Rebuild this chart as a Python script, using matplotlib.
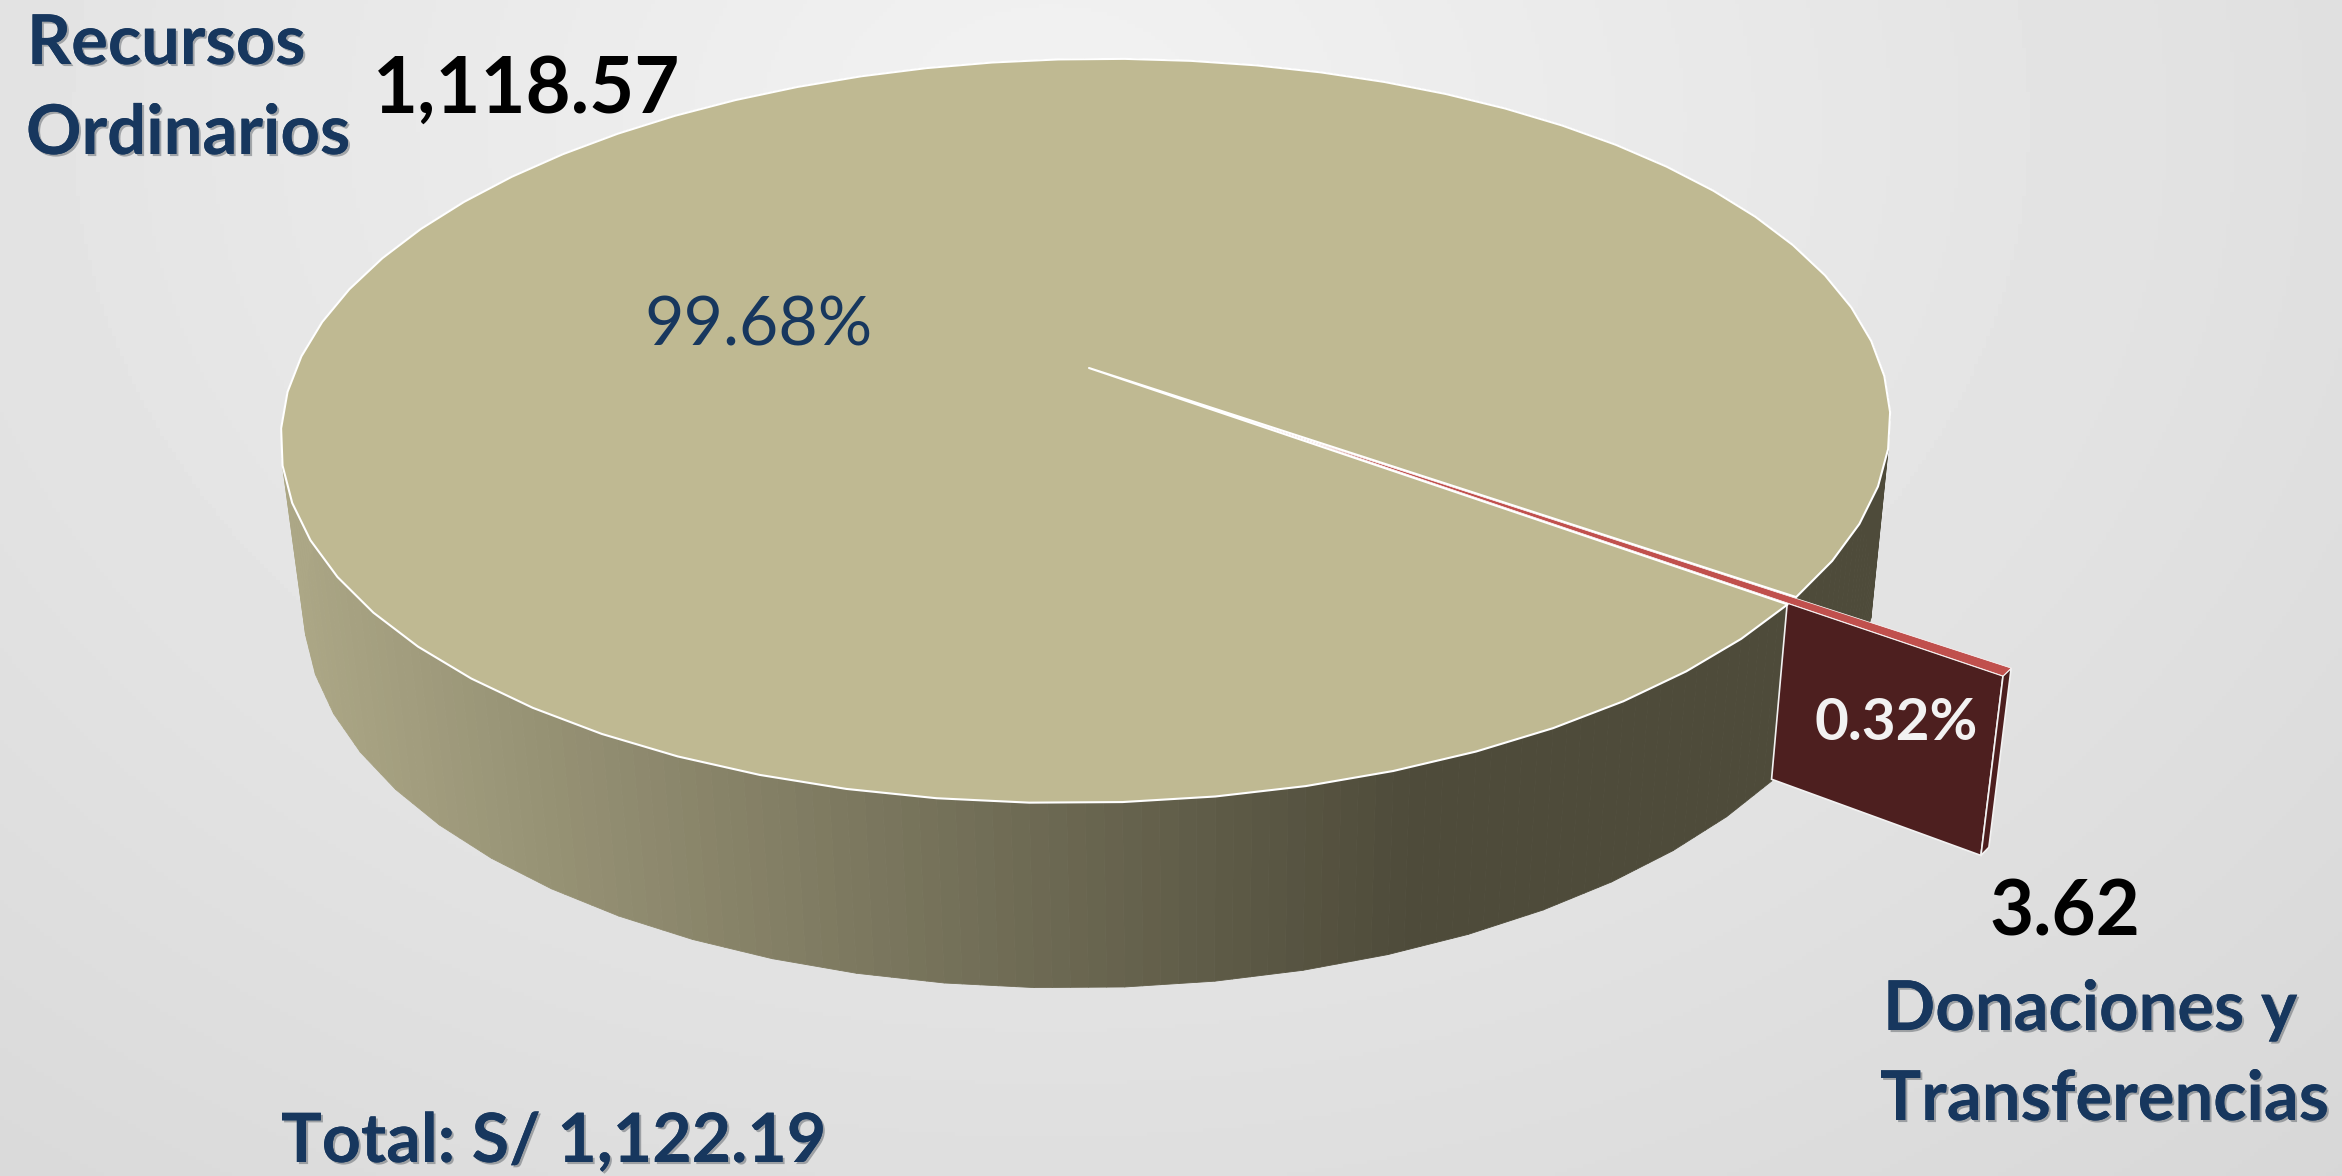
import numpy as np
import matplotlib
matplotlib.use('Agg')
import matplotlib.pyplot as plt
import matplotlib.patheffects as pe
from matplotlib.collections import PolyCollection
from matplotlib.patches import Polygon

plt.rcParams['font.family'] = ['Lato', 'DejaVu Sans']

fuentes = ["Recursos\nOrdinarios", "Donaciones y\nTransferencias"]
montos = [1118.57, 3.62]
monto_labels = ["1,118.57", "3.62"]
pct_labels = ["99.68%", "0.32%"]
total_label = "Total: S/ 1,122.19"

W, H = 2342, 1176
navy = "#17375E"

# projection of the pie plane to picture pixels
cx, cy = 1089, 368
a, b, s, k = 793, 361.5, -20, 0.169
vx, vy, depth = 1200, 7200, 0.02474
angle_mid = 35.5
explode = 0.268


def project(X, Y):
    w = 1 - k * Y
    return cx + (a * X + s * Y) / w, cy + b * Y / w, w


def top(X, Y):
    x, y, w = project(X, Y)
    return np.column_stack([x, y])


def bottom(X, Y):
    x, y, w = project(X, Y)
    return np.column_stack([(x * w + depth * vx) / (w + depth), (y * w + depth * vy) / (w + depth)])


fig = plt.figure(figsize=(W / 100, H / 100), dpi=100)
ax = fig.add_axes([0, 0, 1, 1])
ax.set_xlim(0, W)
ax.set_ylim(H, 0)
ax.axis('off')

# background
yy, xx = np.mgrid[0:H:4, 0:W:4]
dist = np.sqrt(((xx - 1050) / 1500) ** 2 + ((yy - 120) / 1150) ** 2)
ax.imshow(0.95 - 0.085 * dist, cmap='gray', vmin=0, vmax=1, extent=[0, W, H, 0], aspect='auto', zorder=0)

sweep = 360 * montos[1] / sum(montos)
a0 = np.radians(angle_mid - sweep / 2)
a1 = np.radians(angle_mid + sweep / 2)

# rim is faceted in the original, 64 flat pieces
t2 = np.linspace(a1, a0 + 2 * np.pi, 65)
fine = np.linspace(0, 64, 321)
X = np.interp(fine, np.arange(65), np.cos(t2))
Y = np.interp(fine, np.arange(65), np.sin(t2))

# big slice side
pt, pb = top(X, Y), bottom(X, Y)
quads = [[pt[i], pt[i + 1], pb[i + 1], pb[i]] for i in range(len(X) - 1)]
light = np.array([172, 167, 134]) / 255
dark = np.array([78, 75, 58]) / 255
mix = np.clip((pt[:-1, 0] - 282) / (1420 - 282), 0, 1)[:, None]
cols = light * (1 - mix) + dark * mix
ax.add_collection(PolyCollection(quads, facecolors=cols, edgecolors=cols, linewidths=0.6, zorder=2))

# small slice
ex, ey = explode * np.cos(np.radians(angle_mid)), explode * np.sin(np.radians(angle_mid))
Xo0, Yo0 = ex + np.cos(a0), ey + np.sin(a0)
Xo1, Yo1 = ex + np.cos(a1), ey + np.sin(a1)
Xi1, Yi1 = ex + 0.73 * np.cos(a1), ey + 0.73 * np.sin(a1)
wall_x = np.array([Xi1, Xo1])
wall_y = np.array([Yi1, Yo1])
wall = np.vstack([top(wall_x, wall_y), bottom(wall_x, wall_y)[::-1]])
ax.add_patch(Polygon(wall, fc="#4D1F1F", ec="#F2F2F2", lw=1.2, zorder=3))
end_x = np.array([Xo1, Xo0])
end_y = np.array([Yo1, Yo0])
end = np.vstack([top(end_x, end_y), bottom(end_x, end_y)[::-1]])
ax.add_patch(Polygon(end, fc="#4D1F1F", ec="#F2F2F2", lw=1.2, zorder=3))

# big slice top
rim = top(np.cos(t2), np.sin(t2))
face = np.vstack([[cx, cy], rim])
ax.add_patch(Polygon(face, fc="#BFB992", ec="white", lw=1.5, joinstyle='round', zorder=4))

# small slice top
wedge = top(np.array([ex, Xo0, Xo1]), np.array([ey, Yo0, Yo1]))
ax.add_patch(Polygon(wedge, fc="#C0504D", ec="white", lw=0.5, zorder=5))

shadow = [pe.withSimplePatchShadow(offset=(1.5, -1.5), alpha=0.3), pe.Normal()]
name_size = 49.5

for txt, x, y in zip(fuentes[0].split("\n"), [27, 26], [64, 154]):
    ax.text(x, y, txt, color=navy, fontsize=name_size, fontweight='bold', va='baseline', path_effects=shadow, zorder=6)
for txt, x, y in zip(fuentes[1].split("\n"), [1883, 1880], [1030, 1120]):
    ax.text(x, y, txt, color=navy, fontsize=name_size, fontweight='bold', va='baseline', path_effects=shadow, zorder=6)

ax.text(373, 113, monto_labels[0], color="black", fontsize=56, fontweight='bold', va='baseline', zorder=6)
ax.text(1989, 935, monto_labels[1], color="black", fontsize=55, fontweight='bold', va='baseline', zorder=6)
ax.text(759, 327, pct_labels[0], color=navy, fontsize=49, ha='center', va='center', zorder=6)
ax.text(1896, 723, pct_labels[1], color="#F2F2F2", fontsize=42, fontweight='bold', ha='center', va='center', zorder=6)
ax.text(281, 1162, total_label, color=navy, fontsize=49, fontweight='bold', va='baseline', path_effects=shadow, zorder=6)

fig.savefig("out.png", dpi=100)
